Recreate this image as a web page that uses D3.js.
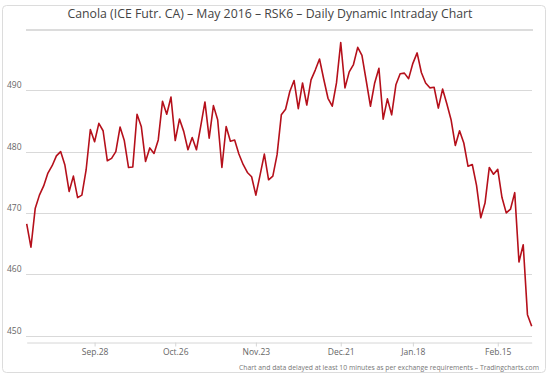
<!DOCTYPE html>
<html>
<head>
<meta charset="utf-8">
<script src="https://cdn.jsdelivr.net/npm/d3@7"></script>
<style>
  body { margin: 0; background: #fff; font-family: "Open Sans", sans-serif; }
  .grid line { stroke: #d9d9d9; }
  .axis-label { fill: #666; font-size: 8.5px; }
  .x-axis text { fill: #666; font-size: 8.5px; font-family: "Open Sans", sans-serif; }
  .x-axis .domain, .x-axis line { stroke: #d6d6d6; }
</style>
</head>
<body>
<svg id="chart"></svg>
<script>
// daily settlement prices, one per trading day
const prices = [
  468.2, 464.4, 470.7, 472.9, 474.4, 476.5, 477.7, 479.3, 480.0, 477.8,
  473.5, 476.0, 472.5, 472.9, 477.0, 483.6, 481.6, 484.6, 483.4, 478.5,
  478.9, 480.0, 484.0, 481.8, 477.4, 477.5, 486.1, 484.1, 478.4, 480.6,
  479.7, 481.9, 488.2, 486.1, 488.9, 481.8, 485.3, 483.3, 480.3, 482.3,
  480.3, 484.1, 488.1, 482.2, 487.5, 485.2, 477.4, 484.1, 481.7, 481.9,
  479.6, 477.9, 476.6, 475.9, 472.9, 476.2, 479.6, 475.4, 476.0, 479.5,
  486.0, 486.9, 489.8, 491.6, 487.0, 491.2, 487.6, 491.7, 493.3, 495.1,
  491.8, 488.7, 487.4, 491.2, 497.8, 490.4, 493.0, 494.2, 497.0, 495.7,
  491.6, 487.4, 491.2, 493.6, 485.3, 488.6, 486.0, 490.9, 492.7, 492.8,
  491.9, 494.4, 496.1, 492.9, 491.2, 490.4, 490.5, 487.1, 490.2, 487.8,
  485.2, 481.0, 483.4, 481.4, 477.6, 477.9, 474.5, 469.2, 471.6, 477.4,
  476.3, 477.1, 472.5, 470.0, 470.6, 473.3, 462.0, 464.8, 453.4, 451.5
];

// x axis ticks: trading-day index and label
const tickIndex = [16, 35, 54, 74, 91, 111];
const tickLabels = ['Sep.28', 'Oct.26', 'Nov.23', 'Dec.21', 'Jan.18', 'Feb.15'];

const yTicks = [450, 460, 470, 480, 490];

const titleText = 'Canola (ICE Futr. CA) \u2013 May 2016 \u2013 RSK6 \u2013 Daily Dynamic Intraday Chart';
const creditText = 'Chart and data delayed at least 10 minutes as per exchange requirements \u2013 Tradingcharts.com';

class LineChart {

  constructor(_config, _data) {
    this.config = {
      parentElement: _config.parentElement,
      containerWidth: _config.containerWidth || 550,
      containerHeight: _config.containerHeight || 377
    };
    this.data = _data;
    this.initVis();
  }

  initVis() {
    let vis = this;

    vis.svg = d3.select(vis.config.parentElement)
      .attr('width', vis.config.containerWidth)
      .attr('height', vis.config.containerHeight);

    // card frame
    vis.svg.append('rect')
      .attr('x', 2.5).attr('y', 5.5)
      .attr('width', 543).attr('height', 367)
      .attr('rx', 4)
      .attr('fill', '#fff')
      .attr('stroke', '#dcdcdc');

    vis.svg.append('text')
      .attr('x', 270)
      .attr('y', 17.5)
      .attr('text-anchor', 'middle')
      .attr('fill', '#444')
      .style('font-size', '12.3px')
      .text(titleText);

    vis.svg.append('line')
      .attr('x1', 26).attr('x2', 533)
      .attr('y1', 30).attr('y2', 30)
      .attr('stroke', '#d0d0d0')
      .attr('stroke-width', 1.5);

    vis.xScale = d3.scaleLinear()
      .range([26.7, 531.7]);

    vis.yScale = d3.scaleLinear()
      .domain([450, 490])
      .range([335.5, 90.3]);

    vis.xAxis = d3.axisBottom(vis.xScale)
      .tickValues(tickIndex)
      .tickFormat((d, i) => tickLabels[i])
      .tickSize(4)
      .tickPadding(2)
      .tickSizeOuter(0);

    vis.gridG = vis.svg.append('g').attr('class', 'grid');
    vis.xAxisG = vis.svg.append('g')
      .attr('class', 'x-axis')
      .attr('transform', 'translate(0,342.5)');
    vis.lineG = vis.svg.append('g');

    vis.svg.append('text')
      .attr('x', 539)
      .attr('y', 370)
      .attr('text-anchor', 'end')
      .attr('fill', '#777')
      .style('font-size', '6.8px')
      .text(creditText);

    vis.updateVis();
  }

  updateVis() {
    let vis = this;
    vis.xScale.domain([0, vis.data.length - 1]);
    vis.renderVis();
  }

  renderVis() {
    let vis = this;

    vis.gridG.selectAll('line')
      .data(yTicks)
      .join('line')
      .attr('x1', 26).attr('x2', 532)
      .attr('y1', d => Math.round(vis.yScale(d)) + 0.5)
      .attr('y2', d => Math.round(vis.yScale(d)) + 0.5);

    vis.gridG.selectAll('text')
      .data(yTicks)
      .join('text')
      .attr('class', 'axis-label')
      .attr('x', 7)
      .attr('y', d => vis.yScale(d) - 2)
      .text(d => d);

    vis.xAxisG.call(vis.xAxis);

    const line = d3.line()
      .x((d, i) => vis.xScale(i))
      .y(d => vis.yScale(d));

    vis.lineG.append('path')
      .datum(vis.data)
      .attr('d', line)
      .attr('fill', 'none')
      .attr('stroke', '#b5101b')
      .attr('stroke-width', 1.6)
      .attr('stroke-linejoin', 'round');
  }
}

new LineChart({ parentElement: '#chart' }, prices);
</script>
</body>
</html>
